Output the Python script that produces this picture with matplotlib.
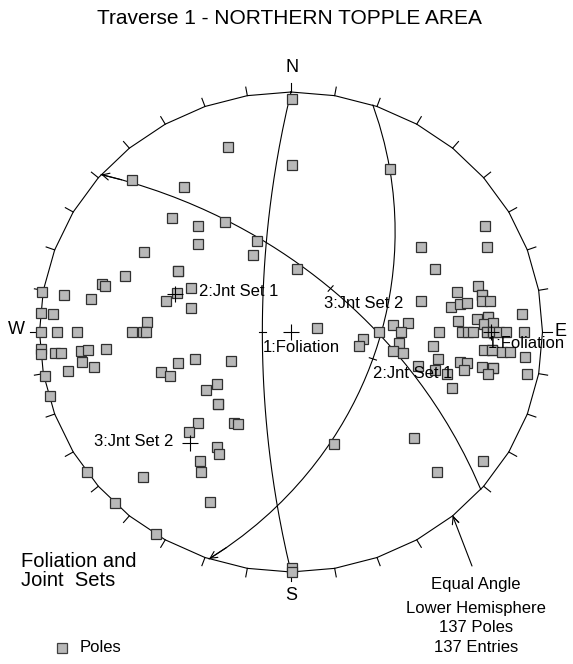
import numpy as np
import matplotlib
matplotlib.use('Agg')
import matplotlib.pyplot as plt

plt.rcParams['font.family'] = ['Liberation Sans', 'DejaVu Sans']

pole_east = [0.004, -0.250, 0.004, 0.394, -0.632, -0.425, -0.473, -0.370, -0.262, -0.370,
             -0.135, -0.151, -0.584, 0.024, -0.449, -0.449, -0.660, -0.751, -0.740, -0.990,
             -0.903, -0.795, -0.398, -0.453, -0.497, -0.398, -0.994, -0.946, -0.573, -0.994,
             -0.930, -0.851, -0.632, -0.588, -0.577, -0.994, -0.994, -0.938, -0.915, -0.835,
             -0.807, -0.831, -0.736, -0.887, -0.783, -0.980, -0.960, -0.449, -0.382, -0.239,
             -0.517, -0.481, -0.294, -0.338, -0.290, -0.290, -0.370, -0.406, -0.227, -0.211,
             -0.294, -0.286, -0.362, -0.358, -0.588, -0.810, -0.700, -0.322, -0.535, 0.004,
             0.004, 0.171, 0.489, 0.763, 0.581, 0.640, 0.771, 0.517, 0.779, 0.573,
             0.744, 0.660, 0.759, 0.759, 0.759, 0.791, 0.517, 0.636, 0.672, 0.700,
             0.918, 0.783, 0.783, 0.740, 0.664, 0.767, 0.803, 0.103, 0.406, 0.465,
             0.350, 0.437, 0.588, 0.680, 0.704, 0.724, 0.779, 0.779, 0.803, 0.803,
             0.827, 0.855, 0.926, 0.286, 0.270, 0.429, 0.565, 0.767, 0.799, 0.799,
             0.839, 0.871, 0.406, 0.445, 0.584, 0.930, 0.505, 0.573, 0.620, 0.672,
             0.700, 0.688, 0.759, 0.803, 0.803, 0.783, 0.938]
pole_north = [0.971, 0.771, 0.696, 0.679, 0.633, 0.604, 0.475, 0.442, 0.458, 0.367,
              0.379, 0.321, 0.333, 0.263, 0.254, 0.254, 0.233, 0.200, 0.192, 0.167,
              0.154, 0.138, 0.183, 0.163, 0.129, 0.100, 0.079, 0.075, 0.042, 0.000,
              0.000, 0.000, 0.000, 0.000, 0.000, -0.071, -0.092, -0.088, -0.088, -0.079,
              -0.075, -0.125, -0.071, -0.163, -0.146, -0.183, -0.267, -0.129, -0.113, -0.121,
              -0.167, -0.183, -0.217, -0.242, -0.300, -0.300, -0.379, -0.417, -0.379, -0.383,
              -0.479, -0.508, -0.538, -0.583, -0.604, -0.583, -0.712, -0.708, -0.843, -0.983,
              -0.998, -0.467, -0.442, -0.538, -0.583, -0.233, 0.442, 0.354, 0.354, 0.263,
              0.192, 0.167, 0.154, 0.154, 0.129, 0.129, 0.129, 0.104, 0.117, 0.121,
              0.075, 0.063, 0.063, 0.054, 0.046, 0.033, 0.038, 0.017, 0.029, 0.038,
              0.000, 0.000, 0.000, 0.000, 0.000, 0.000, 0.000, 0.000, 0.000, 0.000,
              0.000, 0.000, 0.000, -0.029, -0.058, -0.046, -0.058, -0.075, -0.075, -0.075,
              -0.083, -0.083, -0.079, -0.088, -0.113, -0.104, -0.142, -0.158, -0.175, -0.125,
              -0.129, -0.158, -0.146, -0.150, -0.150, -0.175, -0.175]

# set planes: dip direction / dip
set_names = ['1:Foliation', '2:Jnt Set 1', '3:Jnt Set 2']
set_dipdir = [270, 109, 41]
set_dip = [77, 52, 63]

W, H = 573, 664
CX, CY, RX, RY = 291, 332, 251.5, 240


def fxy(px, py):
    # pixel position -> figure fraction
    return px / W, 1 - py / H


def great_circle(dd, dip, n=37):
    dd, dip = np.radians(dd), np.radians(dip)
    st = dd - np.pi / 2
    t = np.linspace(0, np.pi, n)
    s = np.array([np.sin(st), np.cos(st), 0.0])
    d = np.array([np.sin(dd) * np.cos(dip), np.cos(dd) * np.cos(dip), np.sin(dip)])
    l = np.cos(t)[:, None] * s + np.sin(t)[:, None] * d
    plunge = np.arcsin(np.clip(l[:, 2], -1, 1))
    trend = np.arctan2(l[:, 0], l[:, 1])
    r = np.tan(np.pi / 4 - plunge / 2)
    return r * np.sin(trend), r * np.cos(trend)


def project(trend, plunge):
    trend, plunge = np.radians(trend), np.radians(plunge)
    r = np.tan(np.pi / 4 - plunge / 2)
    return r * np.sin(trend), r * np.cos(trend)


fig = plt.figure(figsize=(W / 100, H / 100), dpi=100)
ax = fig.add_axes([0, 0, 1, 1])
ax.set_xlim(-CX / RX, (W - CX) / RX)
ax.set_ylim((CY - H) / RY, CY / RY)
ax.axis('off')

# primitive circle drawn as a 36-gon with outward ticks every 10 degrees
az = np.radians(np.arange(0, 361, 10))
ax.plot(np.sin(az), np.cos(az), color='black', lw=0.8)
for a in az[:-1]:
    ax.plot([np.sin(a), 1.036 * np.sin(a)], [np.cos(a), 1.036 * np.cos(a)], color='black', lw=0.8)

# great circles
for dd, dip in zip(set_dipdir, set_dip):
    gx, gy = great_circle(dd, dip)
    ax.plot(gx, gy, color='black', lw=0.8)
    # small tick at the dip point
    tx, ty = project(dd, dip)
    r0 = np.hypot(tx, ty)
    a = np.radians(dd)
    ax.plot([(r0 - 0.015) * np.sin(a), (r0 + 0.015) * np.sin(a)],
            [(r0 - 0.015) * np.cos(a), (r0 + 0.015) * np.cos(a)], color='black', lw=0.8)

# arrows at two great circle ends
arr = dict(arrowstyle='->,head_length=0.5,head_width=0.25', lw=0.8, color='black',
           shrinkA=0, shrinkB=0)
gx, gy = great_circle(set_dipdir[2], set_dip[2])
ax.annotate('', xy=(gx[0], gy[0]), xytext=(gx[1], gy[1]), arrowprops=arr)
gx, gy = great_circle(set_dipdir[1], set_dip[1])
ax.annotate('', xy=(gx[-1], gy[-1]), xytext=(gx[-2], gy[-2]), arrowprops=arr)

# poles
ax.plot(pole_east, pole_north, 's', ms=7, mfc='#b8b8b8', mec='#303030', mew=0.9, ls='none')

# centre and set pole crosses
ax.plot([0], [0], '+', color='black', ms=11, mew=0.8)
for dd, dip in zip(set_dipdir, set_dip):
    px, py = project(dd + 180, 90 - dip)
    ax.plot([px], [py], '+', color='black', ms=11, mew=0.8)

# leader from the info text
a = np.radians(140)
ax.annotate('', xy=(np.sin(a), np.cos(a)), xytext=fxy(472, 566), textcoords='figure fraction',
            arrowprops=arr)

# labels
txt = dict(fontsize=12, color='black', va='center')
fig.text(*fxy(199, 292), '2:Jnt Set 1', ha='left', **txt)
fig.text(*fxy(263, 348), '1:Foliation', ha='left', **txt)
fig.text(*fxy(173, 442), '3:Jnt Set 2', ha='right', **txt)
fig.text(*fxy(324, 303), '3:Jnt Set 2', ha='left', **txt)
fig.text(*fxy(373, 373), '2:Jnt Set 1', ha='left', **txt)
fig.text(*fxy(488, 343), '1:Foliation', ha='left', **txt)

for s, (px, py) in zip('NSWE', [(292, 68), (291, 595), (16, 330), (561, 332)]):
    fig.text(*fxy(px, py), s, fontsize=13, ha='center', va='center')

fig.text(*fxy(289, 18), 'Traverse 1 - NORTHERN TOPPLE AREA', fontsize=15, ha='center', va='center')
fig.text(*fxy(21, 571), 'Foliation and\nJoint  Sets', fontsize=14.5, ha='left', va='center',
         linespacing=1.05)

for line, py in zip(['Equal Angle', 'Lower Hemisphere', '137 Poles', '137 Entries'],
                    [585, 608, 628, 648]):
    fig.text(*fxy(476, py), line, fontsize=12, ha='center', va='center')

# legend
fig.lines.append(plt.Line2D([62 / W], [1 - 648 / H], marker='s', ms=7, mfc='#b8b8b8',
                            mec='#404040', mew=0.9, transform=fig.transFigure))
fig.text(*fxy(80, 648), 'Poles', fontsize=12, ha='left', va='center')

fig.savefig('out.png', dpi=100)
